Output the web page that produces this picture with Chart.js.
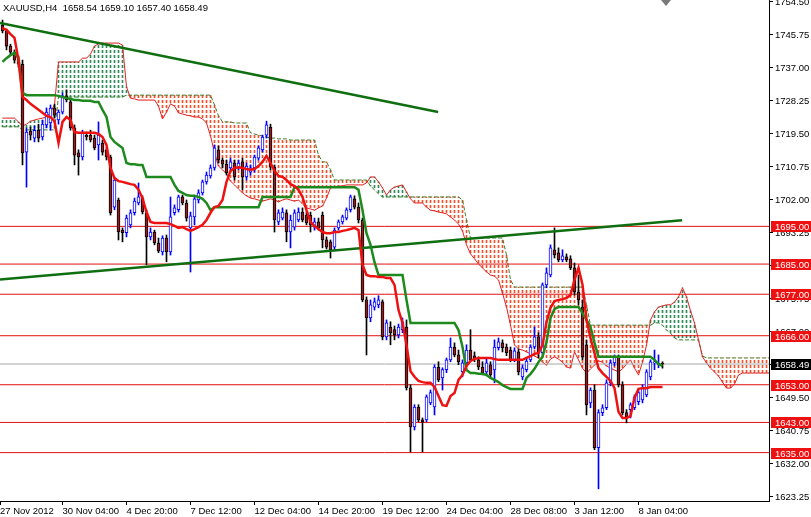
<!DOCTYPE html>
<html><head><meta charset="utf-8">
<script src="https://cdn.jsdelivr.net/npm/chart.js@4.4.0/dist/chart.umd.min.js"></script>
<style>html,body{margin:0;padding:0;background:#fff;overflow:hidden}</style>
</head><body>
<canvas id="c" width="811" height="517"></canvas>
<script>
const symbolTitle = "XAUUSD,H4  1658.54 1659.10 1657.40 1658.49";

const open = [1748.4,1746.8,1742.8,1741.2,1739.1,1738.0,1714.7,1720.3,1718.4,1720.5,
1718.7,1721.9,1722.4,1726.4,1723.2,1725.3,1729.6,1728.0,1721.1,1714.5,
1713.4,1719.2,1719.2,1718.4,1716.6,1717.1,1715.3,1713.4,1700.1,1702.0,
1694.0,1693.3,1695.4,1698.6,1701.2,1702.5,1698.6,1692.2,1693.5,1690.6,
1688.2,1691.9,1688.2,1698.6,1699.4,1702.8,1701.2,1694.6,1697.5,1702.0,
1703.9,1706.8,1708.4,1710.5,1715.3,1712.6,1711.5,1710.5,1711.8,1710.5,
1712.1,1708.1,1709.4,1710.5,1713.1,1715.3,1719.2,1721.3,1710.7,1696.2,
1697.2,1698.6,1693.5,1694.8,1696.7,1698.8,1698.0,1698.0,1694.8,1696.2,
1698.0,1691.4,1690.9,1689.5,1694.6,1696.2,1697.2,1699.4,1702.3,1700.1,
1696.7,1675.5,1670.7,1673.6,1674.2,1675.0,1665.7,1668.3,1667.6,1666.2,
1667.6,1668.3,1652.2,1641.8,1647.1,1643.7,1643.7,1648.2,1647.1,1657.7,
1654.8,1657.0,1659.6,1663.0,1660.9,1656.4,1658.8,1662.2,1660.7,1659.6,
1657.7,1656.4,1658.3,1656.9,1662.8,1664.1,1663.0,1662.2,1659.6,1661.7,
1655.1,1657.0,1659.6,1663.0,1665.7,1661.5,1679.5,1682.1,1688.8,1688.0,
1686.1,1686.9,1686.4,1684.0,1677.6,1673.6,1663.6,1648.2,1651.6,1636.3,
1645.6,1646.9,1653.5,1658.8,1660.4,1653.0,1645.6,1646.4,1646.9,1648.5,
1649.0,1650.3,1655.1,1658.8,1658.3,1658.54];
const high = [1749.7,1747.3,1743.3,1741.8,1740.2,1739.1,1721.1,1721.3,1721.6,1722.1,
1723.2,1726.4,1727.2,1727.4,1725.9,1730.4,1731.2,1729.0,1721.9,1715.3,
1720.5,1720.0,1720.5,1719.2,1722.7,1717.9,1715.8,1713.9,1708.1,1702.5,
1694.6,1698.0,1699.4,1702.5,1706.5,1703.1,1699.4,1694.6,1694.0,1691.9,
1692.5,1692.7,1702.8,1700.7,1703.3,1703.3,1702.0,1698.8,1702.8,1704.7,
1707.3,1709.4,1711.3,1716.6,1716.3,1713.1,1712.6,1713.1,1712.6,1712.6,
1713.1,1711.8,1711.3,1713.9,1716.3,1719.2,1722.9,1722.1,1711.3,1699.4,
1699.9,1699.4,1698.0,1699.4,1699.9,1699.9,1698.8,1698.8,1697.2,1697.2,
1698.8,1692.2,1691.4,1694.6,1696.7,1698.0,1699.9,1703.3,1703.1,1701.2,
1697.2,1676.3,1675.5,1676.0,1676.6,1675.5,1670.2,1669.7,1668.6,1669.1,
1670.7,1670.2,1653.0,1647.7,1647.7,1644.2,1650.3,1651.6,1658.3,1659.1,
1657.5,1660.1,1665.4,1664.1,1662.2,1659.6,1663.6,1667.6,1661.7,1660.4,
1659.1,1660.1,1659.1,1664.9,1665.4,1664.9,1663.8,1663.0,1662.8,1662.5,
1658.3,1660.1,1663.6,1668.3,1666.8,1680.0,1684.0,1690.1,1694.6,1689.3,
1688.8,1687.7,1687.2,1685.3,1682.1,1675.5,1664.9,1652.2,1653.0,1646.4,
1647.7,1654.3,1659.6,1660.9,1660.9,1653.8,1646.4,1648.2,1650.3,1651.6,
1653.0,1657.0,1659.6,1662.2,1660.9,1659.10];
const low = [1746.3,1741.8,1740.4,1738.3,1737.2,1711.3,1705.4,1717.9,1717.4,1717.4,
1717.9,1721.1,1720.5,1723.7,1722.1,1724.8,1728.0,1720.5,1711.3,1708.6,
1712.6,1717.9,1717.4,1715.3,1712.6,1713.9,1712.6,1698.0,1699.4,1691.4,
1690.9,1692.2,1694.6,1698.0,1700.7,1698.3,1684.8,1691.4,1690.1,1688.0,
1687.4,1685.6,1687.4,1698.0,1698.8,1700.7,1696.4,1682.9,1695.4,1701.2,
1703.3,1706.2,1707.8,1709.9,1711.8,1710.5,1708.6,1710.0,1707.3,1710.0,
1704.7,1707.3,1708.6,1709.4,1712.6,1714.7,1718.4,1710.0,1693.5,1695.4,
1696.7,1690.9,1689.3,1694.0,1696.2,1696.2,1695.4,1693.5,1694.0,1694.0,
1689.3,1689.0,1686.6,1688.8,1694.0,1695.6,1696.7,1698.8,1699.6,1695.9,
1675.0,1660.9,1669.7,1672.8,1673.4,1664.9,1664.9,1663.6,1664.9,1665.4,
1666.8,1651.6,1635.2,1641.0,1643.2,1635.2,1643.2,1647.7,1645.0,1653.8,
1651.6,1656.2,1659.1,1660.4,1658.3,1655.1,1658.0,1659.1,1659.1,1657.0,
1655.6,1655.6,1654.8,1653.5,1662.2,1661.7,1660.7,1659.1,1659.1,1655.6,
1654.3,1656.4,1659.1,1662.5,1660.1,1660.9,1678.7,1681.6,1686.6,1685.6,
1685.6,1685.6,1683.5,1676.8,1674.2,1659.6,1645.0,1646.9,1635.8,1625.4,
1644.8,1646.4,1652.7,1658.0,1652.4,1645.0,1642.9,1644.2,1646.4,1647.7,
1648.2,1649.8,1654.3,1657.0,1657.5,1657.40];
const close = [1746.8,1742.8,1741.2,1739.1,1738.0,1714.5,1720.0,1719.2,1720.5,1718.4,
1722.1,1725.3,1726.4,1724.5,1725.3,1729.6,1728.5,1721.1,1713.9,1713.4,
1719.8,1718.7,1717.9,1715.8,1719.2,1714.7,1713.4,1698.6,1707.3,1693.5,
1693.3,1697.2,1698.6,1701.7,1702.8,1698.8,1692.2,1693.5,1690.6,1688.5,
1691.9,1688.2,1697.5,1699.9,1702.8,1701.2,1697.2,1697.8,1702.3,1703.9,
1706.8,1708.6,1710.5,1715.8,1712.6,1711.5,1709.2,1712.1,1708.1,1711.8,
1708.1,1711.0,1710.5,1713.4,1715.8,1718.7,1721.9,1710.7,1696.7,1698.6,
1698.8,1693.5,1696.7,1698.6,1698.8,1696.7,1695.9,1695.4,1696.2,1694.6,
1691.4,1689.5,1688.8,1694.0,1696.2,1697.5,1699.4,1702.8,1700.1,1696.7,
1675.5,1670.7,1674.2,1675.0,1675.5,1665.7,1669.4,1666.8,1666.2,1668.3,
1669.7,1652.2,1641.8,1647.1,1643.7,1643.2,1649.8,1650.9,1657.7,1654.3,
1657.0,1659.6,1663.0,1660.9,1659.1,1658.8,1662.2,1659.6,1659.9,1657.7,
1656.2,1658.8,1655.6,1663.0,1664.4,1662.8,1661.5,1659.6,1662.0,1656.4,
1657.5,1659.3,1663.0,1665.7,1661.5,1679.5,1682.7,1689.3,1687.4,1686.1,
1687.2,1686.1,1684.0,1677.6,1675.5,1660.4,1647.7,1651.6,1636.3,1645.6,
1646.9,1653.5,1658.8,1660.4,1653.0,1645.6,1644.5,1647.7,1649.8,1650.9,
1652.2,1656.4,1659.1,1659.1,1658.3,1658.49];

const tenkan = [1747.6,1747.1,1746.0,1745.0,1739.1,1729.3,1728.5,1727.5,1726.7,1725.9,
1725.1,1724.3,1724.0,1722.9,1717.1,1722.7,1724.0,1723.2,1720.0,1719.8,
1719.8,1719.8,1719.8,1719.8,1719.5,1718.7,1716.6,1710.5,1707.8,1707.0,
1706.8,1706.5,1706.2,1706.0,1704.7,1702.5,1698.8,1696.2,1695.9,1695.9,
1695.9,1695.9,1695.6,1695.1,1694.6,1694.8,1694.3,1693.8,1694.3,1694.8,
1695.4,1696.7,1698.6,1700.1,1700.4,1702.0,1706.8,1709.7,1710.5,1710.7,
1710.5,1710.2,1710.0,1710.2,1711.0,1712.1,1713.7,1711.8,1709.7,1708.4,
1708.1,1707.3,1706.2,1705.7,1704.7,1702.8,1699.3,1696.2,1695.1,1694.3,
1693.5,1693.2,1693.2,1693.5,1693.5,1693.8,1694.0,1694.3,1694.6,1694.0,
1684.8,1682.1,1681.8,1681.8,1681.6,1681.6,1681.3,1681.3,1679.5,1672.8,
1669.4,1663.5,1656.6,1655.1,1654.0,1653.7,1653.5,1653.5,1652.4,1650.0,
1647.6,1647.4,1650.0,1650.8,1654.3,1655.6,1658.0,1659.3,1659.8,1660.1,
1660.1,1660.1,1660.1,1659.8,1659.6,1659.6,1659.6,1659.6,1659.6,1659.6,
1659.6,1660.1,1660.6,1661.2,1661.4,1663.5,1669.6,1673.4,1675.2,1675.5,
1675.7,1676.0,1676.8,1680.8,1684.0,1679.5,1670.2,1665.4,1661.4,1657.4,
1656.1,1655.1,1654.0,1652.1,1645.8,1644.2,1644.2,1644.7,1649.5,1651.9,
1652.1,1652.1,1652.4,1652.4,1652.4,1652.4];

const kijun = [1738.6,1739.6,1740.4,1741.0,1739.6,1730.4,1729.8,1729.8,1729.8,1729.8,
1729.8,1729.8,1729.8,1729.8,1729.6,1729.3,1729.0,1728.8,1728.5,1728.5,
1728.3,1728.3,1728.3,1728.0,1728.0,1725.9,1724.0,1718.7,1717.4,1716.6,
1715.8,1711.8,1711.5,1711.5,1711.3,1711.3,1708.1,1708.1,1708.1,1708.1,
1708.1,1708.1,1708.1,1706.0,1704.4,1703.9,1703.3,1703.1,1703.1,1702.8,
1702.3,1701.2,1699.3,1700.1,1700.1,1700.1,1700.1,1700.1,1700.1,1700.1,
1700.1,1700.1,1700.1,1700.1,1700.1,1702.8,1702.8,1702.8,1702.8,1702.8,
1702.8,1702.8,1702.8,1705.4,1705.4,1705.4,1705.4,1705.4,1705.4,1705.4,
1705.4,1705.4,1705.4,1705.4,1705.4,1705.4,1705.4,1705.4,1705.4,1704.7,
1699.3,1693.2,1690.1,1685.5,1682.1,1682.1,1682.1,1682.1,1682.1,1682.1,
1682.1,1675.5,1669.4,1669.4,1669.4,1669.4,1669.4,1669.4,1669.4,1669.4,
1669.4,1669.4,1669.4,1669.4,1667.5,1663.0,1656.9,1656.1,1656.1,1655.9,
1655.9,1655.6,1654.8,1654.3,1653.7,1652.9,1652.4,1651.9,1651.9,1651.9,
1651.9,1654.8,1655.9,1657.2,1659.0,1660.4,1664.3,1670.7,1673.1,1673.6,
1673.6,1673.6,1673.6,1673.6,1673.6,1672.0,1670.2,1668.3,1664.1,1660.4,
1660.4,1660.4,1660.4,1660.4,1660.4,1660.4,1660.4,1660.4,1660.4,1660.4,
1660.4,1660.4,1660.4,1659.6,1658.5,1658.0];

const spanA = [1723.7,1723.7,1723.7,1723.7,1722.7,1721.6,1722.1,1722.9,1723.2,1723.5,
1723.7,1724.0,1725.3,1727.2,1738.6,1738.6,1738.6,1738.6,1738.6,1738.6,
1739.6,1739.6,1740.7,1742.8,1743.4,1743.6,1743.6,1743.6,1743.6,1743.6,
1743.1,1732.0,1729.0,1728.8,1728.5,1728.5,1728.5,1728.5,1728.5,1726.9,
1723.5,1725.3,1727.5,1726.9,1725.1,1724.8,1724.5,1724.3,1724.0,1724.0,
1723.5,1722.4,1719.0,1714.5,1711.0,1710.0,1708.9,1707.0,1706.0,1704.9,
1703.9,1703.1,1702.5,1702.3,1702.0,1701.7,1702.0,1702.3,1702.0,1701.5,
1702.0,1702.3,1702.0,1701.7,1702.0,1700.9,1699.9,1699.6,1699.3,1699.9,
1700.4,1702.5,1705.2,1705.4,1705.7,1705.7,1706.0,1706.0,1706.0,1706.0,
1706.0,1706.5,1708.1,1708.1,1706.8,1705.2,1703.3,1704.7,1705.4,1705.7,
1706.0,1704.1,1702.3,1701.2,1701.2,1701.2,1700.1,1699.3,1699.1,1698.8,
1698.6,1698.3,1697.5,1696.7,1695.6,1693.8,1690.1,1687.7,1686.4,1685.0,
1684.0,1682.9,1682.1,1681.8,1680.8,1677.3,1673.6,1668.8,1663.5,1662.5,
1662.2,1661.7,1661.2,1660.6,1660.1,1659.0,1658.2,1659.8,1660.4,1659.8,
1659.0,1657.7,1657.4,1661.7,1659.6,1657.4,1656.1,1657.2,1658.2,1659.3,
1659.0,1658.0,1657.4,1656.9,1656.4,1657.2,1658.5,1659.6,1657.4,1655.6,
1659.0,1663.5,1670.2,1672.3,1673.6,1673.9,1674.2,1674.2,1674.9,1676.3,
1678.7,1676.3,1672.6,1669.4,1664.9,1660.4,1658.8,1657.4,1656.4,1655.3,
1653.7,1652.1,1652.1,1653.2,1655.6,1656.1,1656.1,1656.1,1656.1,1656.1,
1656.1,1656.1,1656.1];

const spanB = [1721.4,1721.4,1721.4,1721.4,1721.4,1720.6,1720.6,1720.6,1720.6,1720.6,
1720.6,1720.6,1720.6,1720.6,1729.3,1729.3,1729.3,1729.3,1729.3,1729.3,
1729.3,1729.3,1729.3,1729.3,1729.3,1729.3,1729.3,1729.3,1729.3,1729.3,
1729.3,1729.8,1729.8,1729.8,1729.8,1729.8,1729.8,1729.8,1729.8,1729.8,
1729.8,1729.8,1729.8,1729.8,1729.8,1729.8,1729.8,1729.8,1729.8,1729.8,
1729.8,1729.8,1729.8,1727.2,1724.3,1722.7,1722.7,1722.7,1722.4,1722.4,
1722.4,1722.4,1719.8,1719.5,1719.2,1719.0,1718.7,1718.4,1718.4,1718.2,
1718.2,1718.2,1717.9,1717.9,1717.9,1717.9,1717.9,1717.9,1717.9,1713.9,
1712.1,1712.1,1710.0,1707.3,1707.3,1707.3,1707.3,1707.3,1707.3,1707.3,
1707.3,1707.3,1705.7,1704.7,1703.6,1702.8,1702.8,1702.8,1702.8,1702.8,
1702.8,1702.8,1702.8,1702.8,1702.8,1702.8,1702.8,1702.8,1702.8,1702.8,
1702.8,1702.8,1702.8,1702.8,1702.8,1702.0,1696.7,1691.9,1691.9,1691.9,
1691.9,1691.9,1691.9,1691.9,1691.9,1691.9,1687.4,1680.8,1678.9,1678.9,
1678.9,1678.9,1678.9,1678.9,1678.9,1678.9,1678.9,1678.9,1678.9,1678.9,
1678.9,1678.9,1678.9,1678.9,1678.9,1678.9,1674.2,1668.8,1668.8,1668.8,
1668.8,1668.8,1668.8,1668.8,1668.8,1668.8,1668.8,1668.8,1668.8,1668.8,
1668.8,1668.8,1668.8,1669.4,1669.4,1668.8,1667.5,1666.7,1665.4,1664.9,
1664.9,1664.9,1664.9,1664.9,1664.9,1660.6,1660.1,1660.1,1660.1,1660.1,
1660.1,1660.1,1660.1,1660.1,1660.1,1660.1,1660.1,1660.1,1660.1,1660.1,
1660.1,1660.1,1660.1];

const levels = [1695, 1685, 1677, 1666, 1653, 1643, 1635];
const lastPrice = 1658.49;
const trendUpperX = [-0.625, 108.9], trendUpperY = [1748.93, 1725.33];
const trendLowerX = [-0.625, 169.9], trendLowerY = [1680.94, 1696.61];

const yTicks = [1754.50,1745.75,1737.00,1728.25,1719.50,1710.75,1702.00,1693.25,1684.50,1675.75,1667.00,1658.25,1649.50,1640.75,1632.00,1623.25];
const xTickIdx = [-0.625, 15, 31, 47, 63, 79, 95, 111, 127, 143, 159];
const xTickLabels = ["27 Nov 2012","30 Nov 04:00","4 Dec 20:00","7 Dec 12:00","12 Dec 04:00","14 Dec 20:00","19 Dec 12:00","24 Dec 04:00","28 Dec 08:00","3 Jan 12:00","8 Jan 04:00"];

const X_MIN = -0.625, X_MAX = 191.625, Y_MIN = 1622.17, Y_MAX = 1755.03;
const FONT = '"Liberation Sans", Arial, sans-serif';

const canvas = document.getElementById('c');
const mainCtx = canvas.getContext('2d');
function hatch(color) {
  const c = document.createElement('canvas'); c.width = 4; c.height = 5;
  const g = c.getContext('2d'); g.fillStyle = color; g.fillRect(0, 0, 4, 3);
  return mainCtx.createPattern(c, 'repeat');
}
const redHatch = hatch('#f0502a');
const greenHatch = hatch('#2e8b57');

const idx = open.map((_, i) => i);
const bull = i => close[i] >= open[i];

const datasets = [];
datasets.push({ type:'line', label:'tenkan', data: tenkan.map((v,i)=>({x:i,y:v})), borderColor:'#ee1111', borderWidth:2.5, pointRadius:0, tension:0, order:1 });
datasets.push({ type:'line', label:'kijun', data: kijun.map((v,i)=>({x:i,y:v})), borderColor:'#1e8a1e', borderWidth:2.5, pointRadius:0, tension:0, order:2 });
datasets.push({ type:'line', label:'trend1', data: trendUpperX.map((x,k)=>({x, y:trendUpperY[k]})), borderColor:'#0f6e0f', borderWidth:2.5, pointRadius:0, order:3 });
datasets.push({ type:'line', label:'trend2', data: trendLowerX.map((x,k)=>({x, y:trendLowerY[k]})), borderColor:'#0f6e0f', borderWidth:2.5, pointRadius:0, order:3 });
datasets.push({ type:'bar', label:'body', data: idx.map(i=>({x:i, y:[open[i], close[i]]})), grouped:false, barThickness:3, minBarLength:1,
  backgroundColor: c => bull(c.dataIndex) ? '#ffffff' : '#9b1c1c',
  borderColor: c => bull(c.dataIndex) ? '#0000ff' : '#000000', borderWidth:1, borderSkipped:false, order:4 });
datasets.push({ type:'bar', label:'wick', data: idx.map(i=>({x:i, y:[low[i], high[i]]})), grouped:false, barThickness:1,
  backgroundColor: c => bull(c.dataIndex) ? '#0000ff' : '#000000', borderWidth:0, order:5 });
levels.forEach(L => datasets.push({ type:'line', label:'lvl'+L, data:[{x:X_MIN,y:L},{x:X_MAX,y:L}], borderColor:'#e01010', borderWidth:1, pointRadius:0, order:6 }));
datasets.push({ type:'line', label:'price', data:[{x:X_MIN,y:lastPrice},{x:X_MAX,y:lastPrice}], borderColor:'#a8a8a8', borderWidth:1, pointRadius:0, order:6 });
datasets.push({ type:'line', label:'spanA', data: spanA.map((v,i)=>({x:i,y:v})), borderColor:'#e02222', borderWidth:1, pointRadius:0, tension:0, order:7 });
datasets.push({ type:'line', label:'spanB', data: spanB.map((v,i)=>({x:i,y:v})), borderColor:'#3c7d2a', borderWidth:1, borderDash:[4,2], pointRadius:0, tension:0, order:7 });
datasets.push({ type:'bar', label:'cloud', data: spanA.map((v,i)=>({x:i, y:[v, spanB[i]]})), grouped:false, barThickness:1,
  backgroundColor: c => spanA[c.dataIndex] > spanB[c.dataIndex] ? greenHatch : redHatch, borderWidth:0, order:8, clip:0 });

const overlay = {
  id:'overlay',
  afterDraw(chart) {
    const { ctx } = chart; const y = chart.scales.y;
    ctx.save();
    ctx.font = '9.5px ' + FONT; ctx.textBaseline = 'middle'; ctx.textAlign = 'left';
    ctx.fillStyle = '#000'; ctx.fillText(symbolTitle, 3, 8);
    levels.forEach(v => {
      const py = Math.round(y.getPixelForValue(v));
      ctx.fillStyle = '#ee1111'; ctx.fillRect(771, py - 5, 40, 11);
      ctx.fillStyle = '#ffffff'; ctx.fillText(v.toFixed(2), 775, py + 1);
    });
    const pp = Math.round(y.getPixelForValue(lastPrice));
    ctx.fillStyle = '#000'; ctx.fillRect(771, pp - 5, 40, 11);
    ctx.fillStyle = '#fff'; ctx.fillText(lastPrice.toFixed(2), 775, pp + 1);
    ctx.fillStyle = '#7a7a7a'; ctx.beginPath(); ctx.moveTo(661, 0); ctx.lineTo(671, 0); ctx.lineTo(666, 6); ctx.closePath(); ctx.fill();
    ctx.restore();
  }
};

new Chart(canvas, {
  type:'bar',
  data:{ datasets },
  plugins:[overlay],
  options:{
    responsive:false, animation:false, devicePixelRatio:1,
    layout:{ padding:0, autoPadding:false },
    plugins:{ legend:{display:false}, tooltip:{enabled:false} },
    scales:{
      x:{ type:'linear', min:X_MIN, max:X_MAX, offset:false, position:'bottom',
        afterBuildTicks: s => { s.ticks = xTickIdx.map(v => ({value:v})); },
        afterFit: s => { s.height = 16; s.paddingLeft = 0; s.paddingRight = 0; },
        ticks:{ align:'start', maxRotation:0, autoSkip:false, padding:1, color:'#000', font:{family:FONT, size:9.5},
          callback: v => { const k = xTickIdx.indexOf(v); return k >= 0 ? xTickLabels[k] : ''; } },
        grid:{ drawOnChartArea:false, drawTicks:true, tickLength:4, color:'#000', offset:false },
        border:{ display:true, color:'#000', width:1 } },
      y:{ type:'linear', position:'right', min:Y_MIN, max:Y_MAX, beginAtZero:false,
        afterBuildTicks: s => { s.ticks = yTicks.map(v => ({value:v})); },
        afterFit: s => { s.width = 42; s.paddingTop = 0; s.paddingBottom = 0; },
        ticks:{ padding:2, color:'#000', font:{family:FONT, size:9.5}, callback: v => Number(v).toFixed(2) },
        grid:{ drawOnChartArea:false, drawTicks:true, tickLength:4, color:'#000' },
        border:{ display:true, color:'#000', width:1 } }
    }
  }
});
</script>
</body></html>
